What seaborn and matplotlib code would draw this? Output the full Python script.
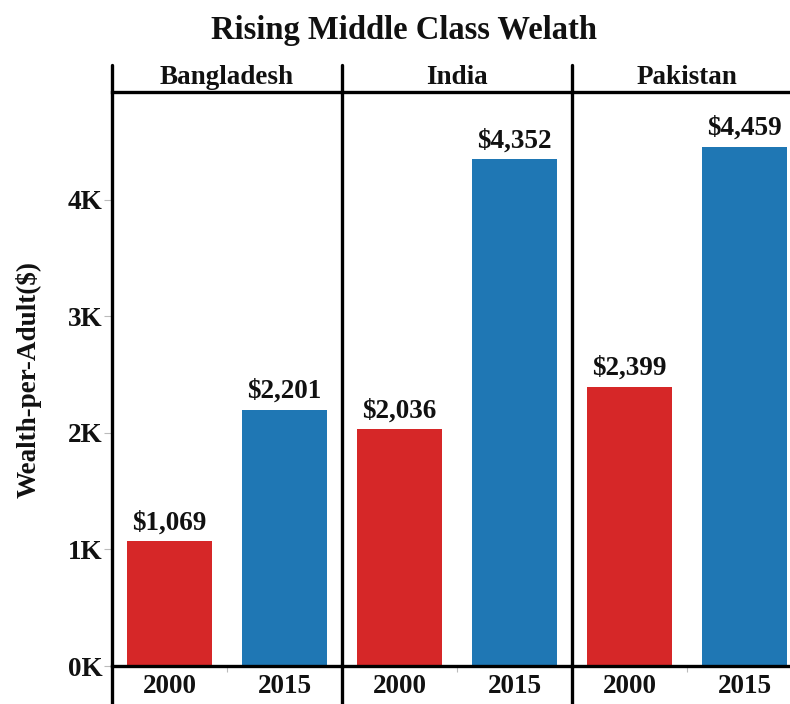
import matplotlib
matplotlib.use("Agg")
import matplotlib.pyplot as plt
from matplotlib.lines import Line2D
import seaborn as sns
import pandas as pd

# Wealth per adult (USD) by country and year
countries = ["Bangladesh", "India", "Pakistan"]
years = ["2000", "2015"]
wealth_2000 = [1069, 2036, 2399]
wealth_2015 = [2201, 4352, 4459]
year_colors = {"2000": "#d62728", "2015": "#1f77b4"}
y_ticks = [0, 1000, 2000, 3000, 4000]
y_tick_labels = ["0K", "1K", "2K", "3K", "4K"]

rows = []
for c, a, b in zip(countries, wealth_2000, wealth_2015):
    rows.append({"country": c, "year": "2000", "wealth": a})
    rows.append({"country": c, "year": "2015", "wealth": b})
df = pd.DataFrame(rows)

sns.set_theme(style="white")
plt.rcParams["font.family"] = ["Liberation Serif", "DejaVu Serif"]
plt.rcParams["font.weight"] = "bold"

FS = 19.5
TXT = "#111111"
W, H = 790, 704
fig = plt.figure(figsize=(W / 100, H / 100), dpi=100)

left_px, panel_px, top_px, base_px = 112, 230, 92, 666
ax_h = (base_px - top_px) / H
ax_b = (H - base_px) / H

for i, country in enumerate(countries):
    ax = fig.add_axes([(left_px + i * panel_px) / W, ax_b, panel_px / W, ax_h])
    sub = df[df["country"] == country]
    sns.barplot(data=sub, x="year", y="wealth", hue="year", order=years,
                palette=year_colors, width=0.74, legend=False, ax=ax,
                saturation=1, errorbar=None, linewidth=0)
    ax.set_xlim(-0.5, 1.5)
    ax.set_ylim(0, 4927)
    for cont in ax.containers:
        ax.bar_label(cont, labels=[f"${v:,.0f}" for v in cont.datavalues],
                     padding=4, fontsize=FS, fontweight="bold", color=TXT)
    ax.set_xlabel("")
    ax.set_ylabel("")
    ax.tick_params(axis="x", length=0, pad=6, labelsize=FS, labelcolor=TXT)
    ax.set_xticks([0.5], minor=True)
    ax.tick_params(axis="x", which="minor", length=4, width=0.8, color="#bbbbbb",
                   direction="out", bottom=True)
    for s in ["left", "right"]:
        ax.spines[s].set_visible(False)
    for s in ["top", "bottom"]:
        ax.spines[s].set_visible(True)
        ax.spines[s].set_color("black")
        ax.spines[s].set_linewidth(2.4)
    ax.set_yticks(y_ticks)
    if i == 0:
        ax.set_yticklabels(y_tick_labels)
        ax.tick_params(axis="y", length=6, width=0.8, color="#bbbbbb", left=True,
                       pad=1, labelsize=FS, labelcolor=TXT)
        ax.set_ylabel("Wealth-per-Adult($)", fontsize=FS, fontweight="bold",
                      color=TXT, labelpad=19)
    else:
        ax.set_yticklabels([])
        ax.tick_params(axis="y", length=0)
    ax.text(0.5, 1 + 14 / (base_px - top_px), country, transform=ax.transAxes,
            ha="center", va="center", fontsize=FS, fontweight="bold", color=TXT)

# Panel dividers running from the header band to the bottom edge
for i in range(3):
    x = (left_px + i * panel_px) / W
    fig.add_artist(Line2D([x, x], [0, (H - 65) / H], color="black", linewidth=2.4,
                          transform=fig.transFigure))

fig.text(404 / W, 1 - 30 / H, "Rising Middle Class Welath", ha="center", va="center",
         fontsize=23.5, fontweight="bold", color=TXT)

fig.savefig("out.png", dpi=100)
